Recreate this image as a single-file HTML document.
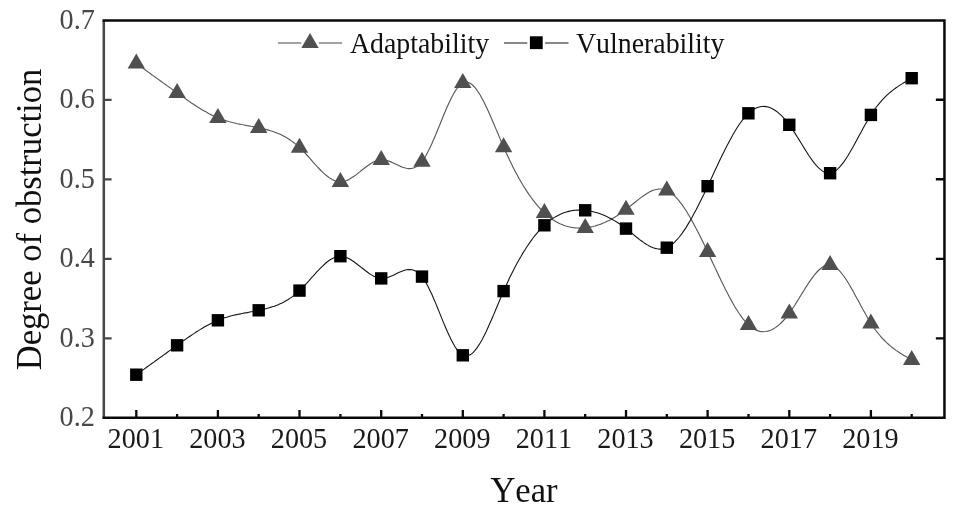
<!DOCTYPE html>
<html lang="en"><head><meta charset="utf-8"><title>Degree of obstruction</title>
<style>
html,body{margin:0;padding:0;background:#fff;}
body{width:955px;height:510px;overflow:hidden;}
svg{display:block;font-family:"Liberation Serif","Times New Roman",serif;font-kerning:none;will-change:transform;}
</style></head><body>
<svg width="955" height="510" viewBox="0 0 955 510">
<rect width="955" height="510" fill="#fff"/>
<path d="M136.3,63.4 L138.2,64.8 L140.2,66.2 L142.1,67.6 L144.1,69.0 L146.0,70.5 L148.0,71.9 L149.9,73.3 L151.8,74.7 L153.8,76.1 L155.7,77.5 L157.7,78.9 L159.6,80.3 L161.6,81.7 L163.5,83.1 L165.5,84.5 L167.4,85.9 L169.3,87.3 L171.3,88.6 L173.2,90.0 L175.2,91.4 L177.1,92.8 L179.1,94.2 L181.0,95.6 L182.9,97.0 L184.9,98.4 L186.8,99.7 L188.8,101.1 L190.7,102.4 L192.7,103.7 L194.6,105.0 L196.5,106.3 L198.5,107.5 L200.4,108.7 L202.4,109.9 L204.3,111.0 L206.3,112.1 L208.2,113.2 L210.1,114.2 L212.1,115.2 L214.0,116.1 L216.0,117.0 L217.9,117.9 L219.9,118.6 L221.8,119.3 L223.8,120.0 L225.7,120.6 L227.6,121.2 L229.6,121.8 L231.5,122.3 L233.5,122.8 L235.4,123.2 L237.4,123.7 L239.3,124.1 L241.2,124.5 L243.2,124.8 L245.1,125.2 L247.1,125.6 L249.0,125.9 L251.0,126.3 L252.9,126.6 L254.8,127.0 L256.8,127.4 L258.7,127.8 L260.7,128.2 L262.6,128.6 L264.6,129.1 L266.5,129.6 L268.4,130.1 L270.4,130.7 L272.3,131.3 L274.3,132.0 L276.2,132.7 L278.2,133.5 L280.1,134.3 L282.1,135.2 L284.0,136.2 L285.9,137.3 L287.9,138.5 L289.8,139.7 L291.8,141.1 L293.7,142.5 L295.7,144.1 L297.6,145.7 L299.5,147.5 L301.5,149.4 L303.4,151.4 L305.4,153.4 L307.3,155.5 L309.3,157.7 L311.2,159.9 L313.1,162.1 L315.1,164.3 L317.0,166.4 L319.0,168.5 L320.9,170.5 L322.9,172.4 L324.8,174.1 L326.7,175.8 L328.7,177.3 L330.6,178.6 L332.6,179.7 L334.5,180.6 L336.5,181.3 L338.4,181.7 L340.4,181.9 L342.3,181.7 L344.2,181.3 L346.2,180.7 L348.1,179.9 L350.1,178.8 L352.0,177.6 L354.0,176.3 L355.9,174.9 L357.8,173.4 L359.8,171.9 L361.7,170.3 L363.7,168.8 L365.6,167.3 L367.6,165.8 L369.5,164.5 L371.4,163.2 L373.4,162.1 L375.3,161.2 L377.3,160.5 L379.2,160.0 L381.2,159.7 L383.1,159.7 L385.0,160.0 L387.0,160.5 L388.9,161.1 L390.9,161.9 L392.8,162.8 L394.8,163.7 L396.7,164.6 L398.7,165.5 L400.6,166.4 L402.5,167.2 L404.5,167.8 L406.4,168.3 L408.4,168.6 L410.3,168.6 L412.3,168.3 L414.2,167.8 L416.1,166.8 L418.1,165.5 L420.0,163.8 L422.0,161.5 L423.9,158.8 L425.9,155.7 L427.8,152.1 L429.7,148.2 L431.7,144.0 L433.6,139.6 L435.6,135.0 L437.5,130.3 L439.5,125.5 L441.4,120.8 L443.3,116.0 L445.3,111.3 L447.2,106.8 L449.2,102.5 L451.1,98.5 L453.1,94.8 L455.0,91.4 L457.0,88.5 L458.9,86.1 L460.8,84.1 L462.8,82.8 L464.7,82.1 L466.7,82.0 L468.6,82.5 L470.6,83.5 L472.5,85.0 L474.4,87.0 L476.4,89.4 L478.3,92.2 L480.3,95.3 L482.2,98.8 L484.2,102.5 L486.1,106.5 L488.0,110.6 L490.0,115.0 L491.9,119.4 L493.9,124.0 L495.8,128.6 L497.8,133.3 L499.7,137.9 L501.6,142.5 L503.6,147.0 L505.5,151.4 L507.5,155.6 L509.4,159.8 L511.4,163.8 L513.3,167.7 L515.2,171.4 L517.2,175.1 L519.1,178.6 L521.1,182.0 L523.0,185.2 L525.0,188.4 L526.9,191.4 L528.9,194.3 L530.8,197.0 L532.7,199.7 L534.7,202.2 L536.6,204.6 L538.6,206.8 L540.5,209.0 L542.5,211.0 L544.4,212.9 L546.3,214.6 L548.3,216.3 L550.2,217.8 L552.2,219.2 L554.1,220.5 L556.1,221.7 L558.0,222.7 L559.9,223.7 L561.9,224.5 L563.8,225.3 L565.8,226.0 L567.7,226.5 L569.7,227.0 L571.6,227.4 L573.6,227.7 L575.5,227.9 L577.4,228.0 L579.4,228.1 L581.3,228.1 L583.3,228.0 L585.2,227.8 L587.2,227.6 L589.1,227.3 L591.0,226.9 L593.0,226.5 L594.9,226.0 L596.9,225.4 L598.8,224.8 L600.8,224.1 L602.7,223.3 L604.6,222.5 L606.6,221.6 L608.5,220.7 L610.5,219.7 L612.4,218.6 L614.4,217.5 L616.3,216.3 L618.2,215.1 L620.2,213.8 L622.1,212.4 L624.1,211.0 L626.0,209.5 L628.0,208.0 L629.9,206.4 L631.9,204.8 L633.8,203.2 L635.7,201.7 L637.7,200.1 L639.6,198.6 L641.6,197.1 L643.5,195.7 L645.5,194.4 L647.4,193.2 L649.3,192.1 L651.3,191.1 L653.2,190.3 L655.2,189.7 L657.1,189.3 L659.1,189.0 L661.0,189.0 L662.9,189.2 L664.9,189.7 L666.8,190.4 L668.8,191.4 L670.7,192.6 L672.7,194.2 L674.6,195.9 L676.5,197.9 L678.5,200.2 L680.4,202.6 L682.4,205.2 L684.3,208.0 L686.3,211.0 L688.2,214.2 L690.2,217.5 L692.1,220.9 L694.0,224.5 L696.0,228.2 L697.9,231.9 L699.9,235.8 L701.8,239.7 L703.8,243.8 L705.7,247.8 L707.6,251.9 L709.6,256.1 L711.5,260.2 L713.5,264.4 L715.4,268.6 L717.4,272.7 L719.3,276.8 L721.2,280.8 L723.2,284.8 L725.1,288.7 L727.1,292.5 L729.0,296.3 L731.0,299.9 L732.9,303.3 L734.8,306.7 L736.8,309.8 L738.7,312.8 L740.7,315.6 L742.6,318.3 L744.6,320.7 L746.5,322.8 L748.5,324.8 L750.4,326.5 L752.3,327.9 L754.3,329.2 L756.2,330.1 L758.2,330.9 L760.1,331.4 L762.1,331.6 L764.0,331.7 L765.9,331.5 L767.9,331.1 L769.8,330.5 L771.8,329.7 L773.7,328.7 L775.7,327.4 L777.6,326.0 L779.5,324.4 L781.5,322.5 L783.4,320.5 L785.4,318.3 L787.3,315.9 L789.3,313.4 L791.2,310.6 L793.1,307.7 L795.1,304.7 L797.0,301.6 L799.0,298.5 L800.9,295.3 L802.9,292.1 L804.8,289.0 L806.8,285.9 L808.7,282.9 L810.6,280.1 L812.6,277.4 L814.5,274.8 L816.5,272.5 L818.4,270.5 L820.4,268.7 L822.3,267.2 L824.2,266.0 L826.2,265.3 L828.1,264.9 L830.1,264.9 L832.0,265.4 L834.0,266.3 L835.9,267.6 L837.8,269.2 L839.8,271.2 L841.7,273.5 L843.7,276.0 L845.6,278.8 L847.6,281.8 L849.5,285.0 L851.4,288.4 L853.4,291.8 L855.3,295.4 L857.3,299.0 L859.2,302.6 L861.2,306.2 L863.1,309.8 L865.1,313.3 L867.0,316.8 L868.9,320.1 L870.9,323.2 L872.8,326.2 L874.8,329.0 L876.7,331.6 L878.7,334.0 L880.6,336.3 L882.5,338.5 L884.5,340.5 L886.4,342.4 L888.4,344.2 L890.3,345.9 L892.3,347.5 L894.2,349.0 L896.1,350.4 L898.1,351.7 L900.0,353.0 L902.0,354.3 L903.9,355.4 L905.9,356.6 L907.8,357.7 L909.7,358.8 L911.7,359.9" fill="none" stroke="#5a5a5a" stroke-width="1.15"/>
<g fill="#505050"><polygon points="136.3,53.6 127.6,68.6 145.0,68.6"/><polygon points="177.1,83.0 168.4,98.0 185.8,98.0"/><polygon points="217.9,108.1 209.2,123.1 226.6,123.1"/><polygon points="258.7,118.0 250.0,133.0 267.4,133.0"/><polygon points="299.5,137.7 290.8,152.7 308.2,152.7"/><polygon points="340.4,172.1 331.7,187.1 349.1,187.1"/><polygon points="381.2,149.9 372.5,164.9 389.9,164.9"/><polygon points="422.0,151.7 413.3,166.7 430.7,166.7"/><polygon points="462.8,73.0 454.1,88.0 471.5,88.0"/><polygon points="503.6,137.2 494.9,152.2 512.3,152.2"/><polygon points="544.4,203.1 535.7,218.1 553.1,218.1"/><polygon points="585.2,218.0 576.5,233.0 593.9,233.0"/><polygon points="626.0,199.7 617.3,214.7 634.7,214.7"/><polygon points="666.8,180.6 658.1,195.6 675.5,195.6"/><polygon points="707.6,242.1 698.9,257.1 716.3,257.1"/><polygon points="748.5,315.0 739.8,330.0 757.2,330.0"/><polygon points="789.3,303.6 780.6,318.6 798.0,318.6"/><polygon points="830.1,255.1 821.4,270.1 838.8,270.1"/><polygon points="870.9,313.4 862.2,328.4 879.6,328.4"/><polygon points="911.7,350.1 903.0,365.1 920.4,365.1"/></g>
<path d="M136.3,374.7 L138.2,373.3 L140.2,371.9 L142.1,370.5 L144.1,369.1 L146.0,367.7 L148.0,366.3 L149.9,364.9 L151.8,363.5 L153.8,362.1 L155.7,360.7 L157.7,359.3 L159.6,357.9 L161.6,356.5 L163.5,355.1 L165.5,353.7 L167.4,352.3 L169.3,350.9 L171.3,349.5 L173.2,348.1 L175.2,346.7 L177.1,345.3 L179.1,343.9 L181.0,342.5 L182.9,341.1 L184.9,339.8 L186.8,338.4 L188.8,337.0 L190.7,335.7 L192.7,334.4 L194.6,333.1 L196.5,331.8 L198.5,330.6 L200.4,329.4 L202.4,328.2 L204.3,327.1 L206.3,326.0 L208.2,324.9 L210.1,323.9 L212.1,322.9 L214.0,322.0 L216.0,321.1 L217.9,320.3 L219.9,319.5 L221.8,318.8 L223.8,318.1 L225.7,317.5 L227.6,316.9 L229.6,316.3 L231.5,315.8 L233.5,315.3 L235.4,314.9 L237.4,314.5 L239.3,314.1 L241.2,313.7 L243.2,313.3 L245.1,312.9 L247.1,312.6 L249.0,312.2 L251.0,311.8 L252.9,311.5 L254.8,311.1 L256.8,310.7 L258.7,310.3 L260.7,309.9 L262.6,309.5 L264.6,309.0 L266.5,308.5 L268.4,308.0 L270.4,307.4 L272.3,306.8 L274.3,306.2 L276.2,305.4 L278.2,304.7 L280.1,303.8 L282.1,302.9 L284.0,301.9 L285.9,300.8 L287.9,299.7 L289.8,298.4 L291.8,297.1 L293.7,295.6 L295.7,294.1 L297.6,292.4 L299.5,290.6 L301.5,288.7 L303.4,286.8 L305.4,284.7 L307.3,282.6 L309.3,280.4 L311.2,278.2 L313.1,276.0 L315.1,273.9 L317.0,271.7 L319.0,269.7 L320.9,267.7 L322.9,265.8 L324.8,264.0 L326.7,262.3 L328.7,260.8 L330.6,259.5 L332.6,258.4 L334.5,257.5 L336.5,256.8 L338.4,256.4 L340.4,256.2 L342.3,256.4 L344.2,256.8 L346.2,257.4 L348.1,258.3 L350.1,259.3 L352.0,260.5 L354.0,261.8 L355.9,263.2 L357.8,264.7 L359.8,266.2 L361.7,267.8 L363.7,269.3 L365.6,270.8 L367.6,272.3 L369.5,273.7 L371.4,274.9 L373.4,276.0 L375.3,276.9 L377.3,277.7 L379.2,278.2 L381.2,278.4 L383.1,278.4 L385.0,278.1 L387.0,277.6 L388.9,277.0 L390.9,276.2 L392.8,275.4 L394.8,274.4 L396.7,273.5 L398.7,272.6 L400.6,271.7 L402.5,270.9 L404.5,270.3 L406.4,269.8 L408.4,269.6 L410.3,269.5 L412.3,269.8 L414.2,270.4 L416.1,271.3 L418.1,272.6 L420.0,274.4 L422.0,276.6 L423.9,279.3 L425.9,282.4 L427.8,286.0 L429.7,289.9 L431.7,294.1 L433.6,298.5 L435.6,303.1 L437.5,307.8 L439.5,312.6 L441.4,317.4 L443.3,322.1 L445.3,326.8 L447.2,331.3 L449.2,335.6 L451.1,339.6 L453.1,343.3 L455.0,346.7 L457.0,349.6 L458.9,352.1 L460.8,354.0 L462.8,355.3 L464.7,356.0 L466.7,356.1 L468.6,355.6 L470.6,354.6 L472.5,353.1 L474.4,351.1 L476.4,348.7 L478.3,345.9 L480.3,342.8 L482.2,339.4 L484.2,335.6 L486.1,331.7 L488.0,327.5 L490.0,323.1 L491.9,318.7 L493.9,314.1 L495.8,309.5 L497.8,304.8 L499.7,300.2 L501.6,295.6 L503.6,291.1 L505.5,286.7 L507.5,282.5 L509.4,278.3 L511.4,274.3 L513.3,270.5 L515.2,266.7 L517.2,263.1 L519.1,259.5 L521.1,256.2 L523.0,252.9 L525.0,249.8 L526.9,246.7 L528.9,243.9 L530.8,241.1 L532.7,238.5 L534.7,235.9 L536.6,233.6 L538.6,231.3 L540.5,229.2 L542.5,227.1 L544.4,225.3 L546.3,223.5 L548.3,221.9 L550.2,220.3 L552.2,218.9 L554.1,217.6 L556.1,216.5 L558.0,215.4 L559.9,214.4 L561.9,213.6 L563.8,212.8 L565.8,212.2 L567.7,211.6 L569.7,211.1 L571.6,210.7 L573.6,210.4 L575.5,210.2 L577.4,210.1 L579.4,210.0 L581.3,210.1 L583.3,210.2 L585.2,210.3 L587.2,210.6 L589.1,210.9 L591.0,211.2 L593.0,211.7 L594.9,212.2 L596.9,212.7 L598.8,213.3 L600.8,214.0 L602.7,214.8 L604.6,215.6 L606.6,216.5 L608.5,217.4 L610.5,218.4 L612.4,219.5 L614.4,220.6 L616.3,221.8 L618.2,223.0 L620.2,224.3 L622.1,225.7 L624.1,227.1 L626.0,228.6 L628.0,230.1 L629.9,231.7 L631.9,233.3 L633.8,234.9 L635.7,236.5 L637.7,238.0 L639.6,239.6 L641.6,241.0 L643.5,242.4 L645.5,243.7 L647.4,244.9 L649.3,246.0 L651.3,247.0 L653.2,247.8 L655.2,248.4 L657.1,248.8 L659.1,249.1 L661.0,249.1 L662.9,248.9 L664.9,248.5 L666.8,247.7 L668.8,246.7 L670.7,245.5 L672.7,244.0 L674.6,242.2 L676.5,240.2 L678.5,238.0 L680.4,235.5 L682.4,232.9 L684.3,230.1 L686.3,227.1 L688.2,223.9 L690.2,220.6 L692.1,217.2 L694.0,213.6 L696.0,210.0 L697.9,206.2 L699.9,202.3 L701.8,198.4 L703.8,194.4 L705.7,190.3 L707.6,186.2 L709.6,182.0 L711.5,177.9 L713.5,173.7 L715.4,169.5 L717.4,165.4 L719.3,161.3 L721.2,157.3 L723.2,153.3 L725.1,149.4 L727.1,145.6 L729.0,141.9 L731.0,138.3 L732.9,134.8 L734.8,131.5 L736.8,128.3 L738.7,125.3 L740.7,122.5 L742.6,119.9 L744.6,117.5 L746.5,115.3 L748.5,113.3 L750.4,111.6 L752.3,110.2 L754.3,109.0 L756.2,108.0 L758.2,107.3 L760.1,106.7 L762.1,106.5 L764.0,106.4 L765.9,106.6 L767.9,107.0 L769.8,107.6 L771.8,108.4 L773.7,109.5 L775.7,110.7 L777.6,112.1 L779.5,113.8 L781.5,115.6 L783.4,117.6 L785.4,119.8 L787.3,122.2 L789.3,124.8 L791.2,127.5 L793.1,130.4 L795.1,133.4 L797.0,136.5 L799.0,139.6 L800.9,142.8 L802.9,146.0 L804.8,149.1 L806.8,152.2 L808.7,155.2 L810.6,158.0 L812.6,160.8 L814.5,163.3 L816.5,165.6 L818.4,167.6 L820.4,169.4 L822.3,170.9 L824.2,172.1 L826.2,172.9 L828.1,173.3 L830.1,173.2 L832.0,172.7 L834.0,171.8 L835.9,170.6 L837.8,168.9 L839.8,166.9 L841.7,164.6 L843.7,162.1 L845.6,159.3 L847.6,156.3 L849.5,153.1 L851.4,149.7 L853.4,146.3 L855.3,142.7 L857.3,139.1 L859.2,135.5 L861.2,131.9 L863.1,128.3 L865.1,124.8 L867.0,121.4 L868.9,118.1 L870.9,114.9 L872.8,111.9 L874.8,109.2 L876.7,106.5 L878.7,104.1 L880.6,101.8 L882.5,99.6 L884.5,97.6 L886.4,95.7 L888.4,93.9 L890.3,92.2 L892.3,90.6 L894.2,89.1 L896.1,87.7 L898.1,86.4 L900.0,85.1 L902.0,83.9 L903.9,82.7 L905.9,81.5 L907.8,80.4 L909.7,79.3 L911.7,78.2" fill="none" stroke="#151515" stroke-width="1.1"/>
<g fill="#000"><rect x="130.1" y="368.5" width="12.4" height="12.4"/><rect x="170.9" y="339.1" width="12.4" height="12.4"/><rect x="211.7" y="314.1" width="12.4" height="12.4"/><rect x="252.5" y="304.1" width="12.4" height="12.4"/><rect x="293.3" y="284.4" width="12.4" height="12.4"/><rect x="334.2" y="250.0" width="12.4" height="12.4"/><rect x="375.0" y="272.2" width="12.4" height="12.4"/><rect x="415.8" y="270.4" width="12.4" height="12.4"/><rect x="456.6" y="349.1" width="12.4" height="12.4"/><rect x="497.4" y="284.9" width="12.4" height="12.4"/><rect x="538.2" y="219.1" width="12.4" height="12.4"/><rect x="579.0" y="204.1" width="12.4" height="12.4"/><rect x="619.8" y="222.4" width="12.4" height="12.4"/><rect x="660.6" y="241.5" width="12.4" height="12.4"/><rect x="701.4" y="180.0" width="12.4" height="12.4"/><rect x="742.2" y="107.1" width="12.4" height="12.4"/><rect x="783.1" y="118.6" width="12.4" height="12.4"/><rect x="823.9" y="167.0" width="12.4" height="12.4"/><rect x="864.7" y="108.7" width="12.4" height="12.4"/><rect x="905.5" y="72.0" width="12.4" height="12.4"/></g>
<path d="M103.8,20.45 V417.85" stroke="#484848" stroke-width="2.5" fill="none"/>
<path d="M102.55,20.45 H944.45 V417.85 H102.55" stroke="#0a0a0a" stroke-width="2.5" fill="none" stroke-linejoin="miter"/>
<path d="M136.3,417.85 v-7.8 M177.1,417.85 v-3.8 M217.9,417.85 v-7.8 M258.7,417.85 v-3.8 M299.5,417.85 v-7.8 M340.4,417.85 v-3.8 M381.2,417.85 v-7.8 M422.0,417.85 v-3.8 M462.8,417.85 v-7.8 M503.6,417.85 v-3.8 M544.4,417.85 v-7.8 M585.2,417.85 v-3.8 M626.0,417.85 v-7.8 M666.8,417.85 v-3.8 M707.6,417.85 v-7.8 M748.5,417.85 v-3.8 M789.3,417.85 v-7.8 M830.1,417.85 v-3.8 M870.9,417.85 v-7.8 M911.7,417.85 v-3.8" stroke="#0a0a0a" stroke-width="2.3" fill="none"/>
<path d="M103.8,338.4 h7.8 M103.8,258.9 h7.8 M103.8,179.3 h7.8 M103.8,99.8 h7.8" stroke="#484848" stroke-width="2.3" fill="none"/>
<path d="M944.45,338.4 h-8.6 M944.45,258.9 h-8.6 M944.45,179.3 h-8.6 M944.45,99.8 h-8.6" stroke="#0a0a0a" stroke-width="2.4" fill="none"/>
<text transform="translate(135.8,448.4) scale(1.0,1.072)" font-size="28.2" fill="#1a1a1a" text-anchor="middle">2001</text>
<text transform="translate(217.4,448.4) scale(1.0,1.072)" font-size="28.2" fill="#1a1a1a" text-anchor="middle">2003</text>
<text transform="translate(299.0,448.4) scale(1.0,1.072)" font-size="28.2" fill="#1a1a1a" text-anchor="middle">2005</text>
<text transform="translate(380.7,448.4) scale(1.0,1.072)" font-size="28.2" fill="#1a1a1a" text-anchor="middle">2007</text>
<text transform="translate(462.3,448.4) scale(1.0,1.072)" font-size="28.2" fill="#1a1a1a" text-anchor="middle">2009</text>
<text transform="translate(543.9,448.4) scale(1.0,1.072)" font-size="28.2" fill="#1a1a1a" text-anchor="middle">2011</text>
<text transform="translate(625.5,448.4) scale(1.0,1.072)" font-size="28.2" fill="#1a1a1a" text-anchor="middle">2013</text>
<text transform="translate(707.1,448.4) scale(1.0,1.072)" font-size="28.2" fill="#1a1a1a" text-anchor="middle">2015</text>
<text transform="translate(788.8,448.4) scale(1.0,1.072)" font-size="28.2" fill="#1a1a1a" text-anchor="middle">2017</text>
<text transform="translate(870.4,448.4) scale(1.0,1.072)" font-size="28.2" fill="#1a1a1a" text-anchor="middle">2019</text>
<text transform="translate(94.8,426.3) scale(1.0,1.072)" font-size="28.2" fill="#484848" text-anchor="end">0.2</text>
<text transform="translate(94.8,346.8) scale(1.0,1.072)" font-size="28.2" fill="#484848" text-anchor="end">0.3</text>
<text transform="translate(94.8,267.3) scale(1.0,1.072)" font-size="28.2" fill="#484848" text-anchor="end">0.4</text>
<text transform="translate(94.8,187.7) scale(1.0,1.072)" font-size="28.2" fill="#484848" text-anchor="end">0.5</text>
<text transform="translate(94.8,108.2) scale(1.0,1.072)" font-size="28.2" fill="#484848" text-anchor="end">0.6</text>
<text transform="translate(94.8,28.7) scale(1.0,1.072)" font-size="28.2" fill="#484848" text-anchor="end">0.7</text>
<text transform="translate(524.0,501.8) scale(1.0,1.065)" font-size="34.6" fill="#111" text-anchor="middle">Year</text>
<text transform="translate(40.7,219.5) rotate(-90) scale(1.0,1.065)" font-size="34.6" fill="#111" text-anchor="middle">Degree of obstruction</text>
<path d="M278,43 H301.2 M318.8,43 H342" stroke="#a2a2a2" stroke-width="2" fill="none"/>
<g fill="#505050"><polygon points="310.0,33.1 301.3,47.9 318.7,47.9"/></g>
<text transform="translate(350.0,52.5) scale(1.005,1.065)" font-size="27.7" fill="#111" text-anchor="start">Adaptability</text>
<path d="M504,43 H527.3 M545.1,43 H568.5" stroke="#888" stroke-width="2" fill="none"/>
<g fill="#000"><rect x="529.9" y="36.3" width="12.8" height="12.8"/></g>
<text transform="translate(576.0,52.5) scale(1.005,1.065)" font-size="27.7" fill="#111" text-anchor="start">Vulnerability</text>
</svg></body></html>
